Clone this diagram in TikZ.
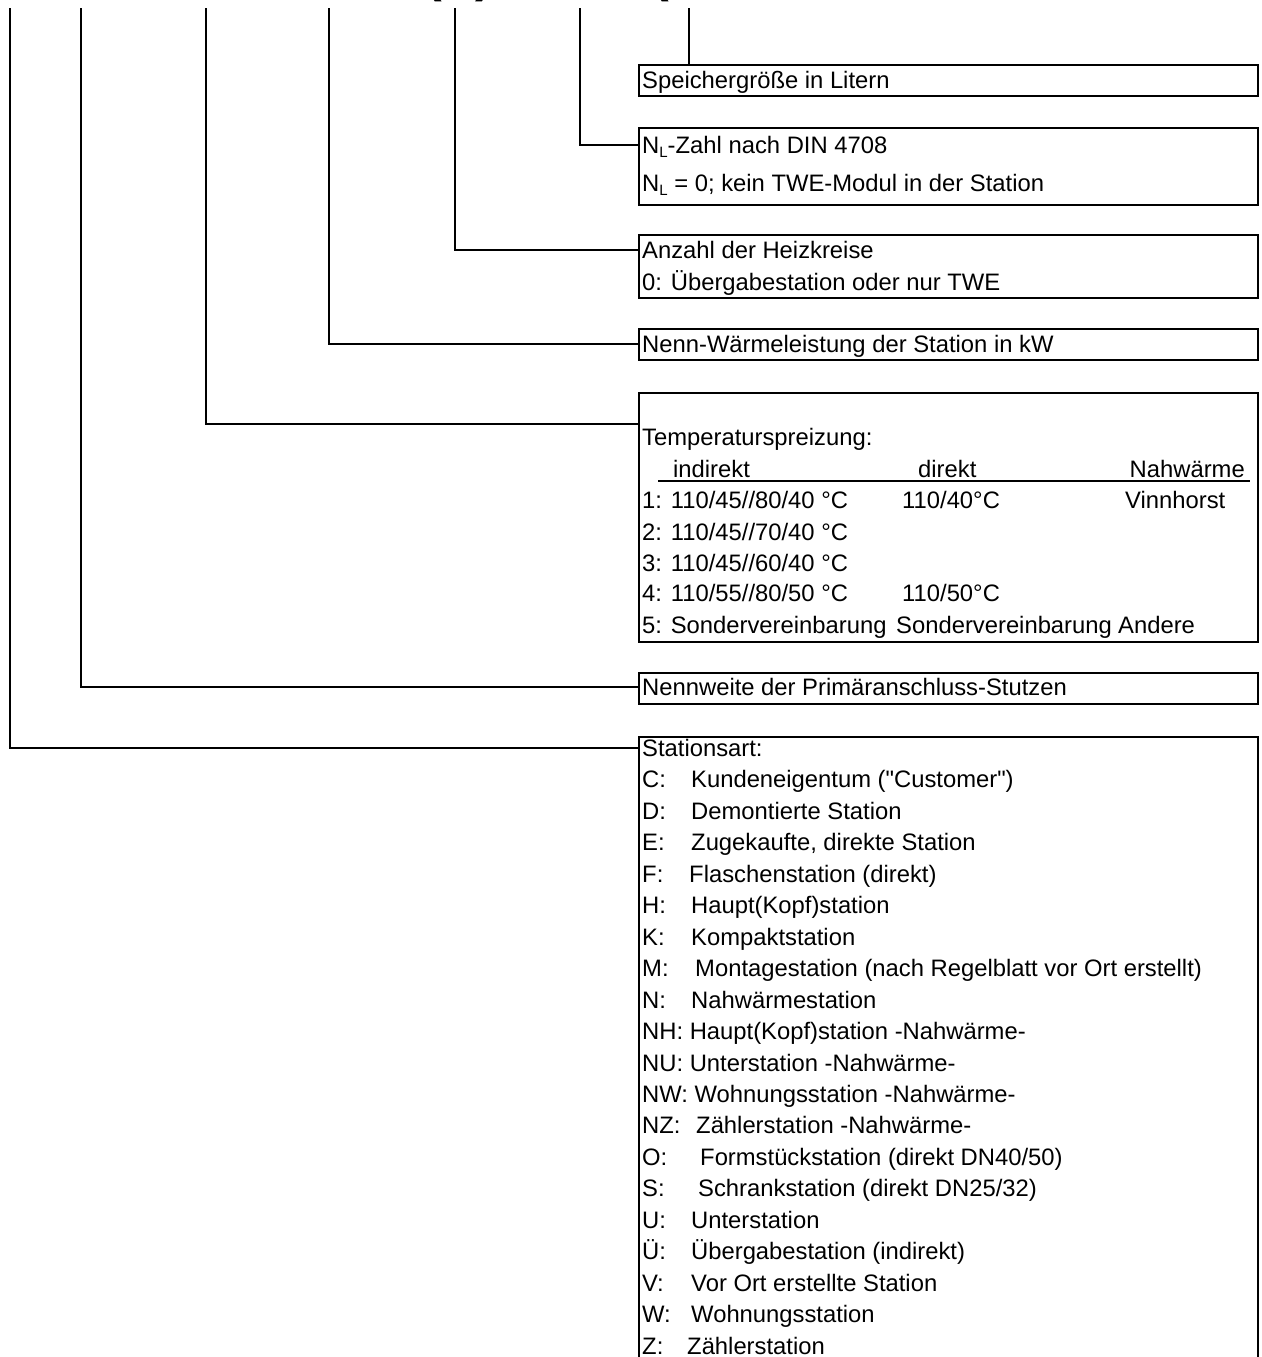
\documentclass[tikz,border=0pt]{standalone}
\usepackage{fontspec}
\setmainfont{Liberation Sans}[Ligatures=TeXOff]
\newcommand{\NLsub}{N\raisebox{-0.28ex}{\fontsize{15}{15}\selectfont L}}
\newcommand{\cdbox}[2]{\makebox[#1pt][l]{#2}}
\begin{document}
\begin{tikzpicture}[x=1pt,y=-1pt,
  conn/.style={line width=1.3pt},
  boxst/.style={draw, line width=2pt, rectangle, anchor=north west, inner sep=0pt, minimum width=619pt},
  txt/.style={anchor=base west, inner xsep=4pt, inner ysep=0pt, text height=17pt, text depth=0pt, font=\fontsize{23.8}{28}\selectfont},
  col/.style={anchor=base west, inner sep=0pt, font=\fontsize{23.8}{28}\selectfont},
  paren/.style={anchor=base west, inner sep=0pt, font=\fontsize{50}{50}\selectfont\bfseries},
]
\useasboundingbox (0,0) rectangle (1261,1357);
\clip (0,0) rectangle (1261,1357);

% partially visible heading characters
\node[paren] (p1) at (425,-8.5) {(};
\node[paren] (p2) at (475,-8.5) {)};
\node[paren] (p3) at (652,-8.5) {(};

% boxes
\node[boxst, minimum height=31pt] (b1) at (638,64) {};
\node[boxst, minimum height=77pt] (b2) at (638,127) {};
\node[boxst, minimum height=63pt] (b3) at (638,234) {};
\node[boxst, minimum height=31pt] (b4) at (638,328) {};
\node[boxst, minimum height=249pt] (b5) at (638,392) {};
\node[boxst, minimum height=31pt] (b6) at (638,672) {};
\node[boxst, minimum height=700pt] (b7) at (638,736) {};

% top ends of the leader lines
\coordinate (t1) at (10,8);
\coordinate (t2) at (81,8);
\coordinate (t3) at (206,8);
\coordinate (t4) at (329,8);
\coordinate (t5) at (455,8);
\coordinate (t6) at (580,8);
\coordinate (t7) at (689,8);
\coordinate (c5) at (638,424);

% box texts
\node[txt] (l1) at (638,88.5) {Speichergröße in Litern};
\node[txt] (l2a) at (638,153.5) {\NLsub-Zahl nach DIN 4708};
\node[txt] (l2b) at (638,191.5) {\NLsub\ = 0; kein TWE-Modul in der Station};
\node[txt] (l3a) at (638,258.5) {Anzahl der Heizkreise};
\node[txt] (l3b) at (638,290.5) {0: Übergabestation oder nur TWE};
\node[txt] (l4) at (638,352.5) {Nenn-Wärmeleistung der Station in kW};
\node[txt] (l6) at (638,695.5) {Nennweite der Primäranschluss-Stutzen};

% temperature table
\node[txt] (l5) at (638,445.5) {Temperaturspreizung:};
\node[col] (h1) at (673,477.5) {indirekt};
\node[col] (h2) at (918,477.5) {direkt};
\node[col, anchor=base east] (h3) at (1245,477.5) {Nahwärme};
\coordinate (u1) at (658,481);
\coordinate (u2) at (1250,481);
\draw[conn] (u1) -- (u2);
\node[txt] (r1) at (638,508.5) {1: 110/45//80/40 °C};
\node[col] (r1b) at (902,508.5) {110/40°C};
\node[col] (r1c) at (1125,508.5) {Vinnhorst};
\node[txt] (r2) at (638,540.5) {2: 110/45//70/40 °C};
\node[txt] (r3) at (638,571.5) {3: 110/45//60/40 °C};
\node[txt] (r4) at (638,601.5) {4: 110/55//80/50 °C};
\node[col] (r4b) at (902,601.5) {110/50°C};
\node[txt] (r5) at (638,633.5) {5: Sondervereinbarung};
\node[col] (r5b) at (896,633.5) {Sondervereinbarung};
\node[col] (r5c) at (1118,633.5) {Andere};

% station types
\node[txt] (s0) at (638,756.5) {Stationsart:};
\node[txt] (s1) at (638,787.95) {\cdbox{49}{C:}Kundeneigentum ("Customer")};
\node[txt] (s2) at (638,819.4) {\cdbox{49}{D:}Demontierte Station};
\node[txt] (s3) at (638,850.85) {\cdbox{49}{E:}Zugekaufte, direkte Station};
\node[txt] (s4) at (638,882.3) {\cdbox{47}{F:}Flaschenstation (direkt)};
\node[txt] (s5) at (638,913.75) {\cdbox{49}{H:}Haupt(Kopf)station};
\node[txt] (s6) at (638,945.2) {\cdbox{49}{K:}Kompaktstation};
\node[txt] (s7) at (638,976.65) {\cdbox{53}{M:}Montagestation (nach Regelblatt vor Ort erstellt)};
\node[txt] (s8) at (638,1008.1) {\cdbox{49}{N:}Nahwärmestation};
\node[txt] (s9) at (638,1039.55) {NH: Haupt(Kopf)station -Nahwärme-};
\node[txt] (s10) at (638,1071) {NU: Unterstation -Nahwärme-};
\node[txt] (s11) at (638,1102.45) {NW: Wohnungsstation -Nahwärme-};
\node[txt] (s12) at (638,1133.9) {\cdbox{54}{NZ:}Zählerstation -Nahwärme-};
\node[txt] (s13) at (638,1165.35) {\cdbox{58}{O:}Formstückstation (direkt DN40/50)};
\node[txt] (s14) at (638,1196.8) {\cdbox{56}{S:}Schrankstation (direkt DN25/32)};
\node[txt] (s15) at (638,1228.25) {\cdbox{49}{U:}Unterstation};
\node[txt] (s16) at (638,1259.7) {\cdbox{49}{Ü:}Übergabestation (indirekt)};
\node[txt] (s17) at (638,1291.15) {\cdbox{49}{V:}Vor Ort erstellte Station};
\node[txt] (s18) at (638,1322.6) {\cdbox{49}{W:}Wohnungsstation};
\node[txt] (s19) at (638,1354.05) {\cdbox{45}{Z:}Zählerstation};

% leader lines
\draw[conn] (t7) -- (t7 |- b1.north);
\draw[conn] (t6) |- (l2a.west);
\draw[conn] (t5) |- (l3a.west);
\draw[conn] (t4) |- (l4.west);
\draw[conn] (t3) |- (c5);
\draw[conn] (t2) |- (l6.west);
\draw[conn] (t1) |- (s0.west);
\end{tikzpicture}
\end{document}
